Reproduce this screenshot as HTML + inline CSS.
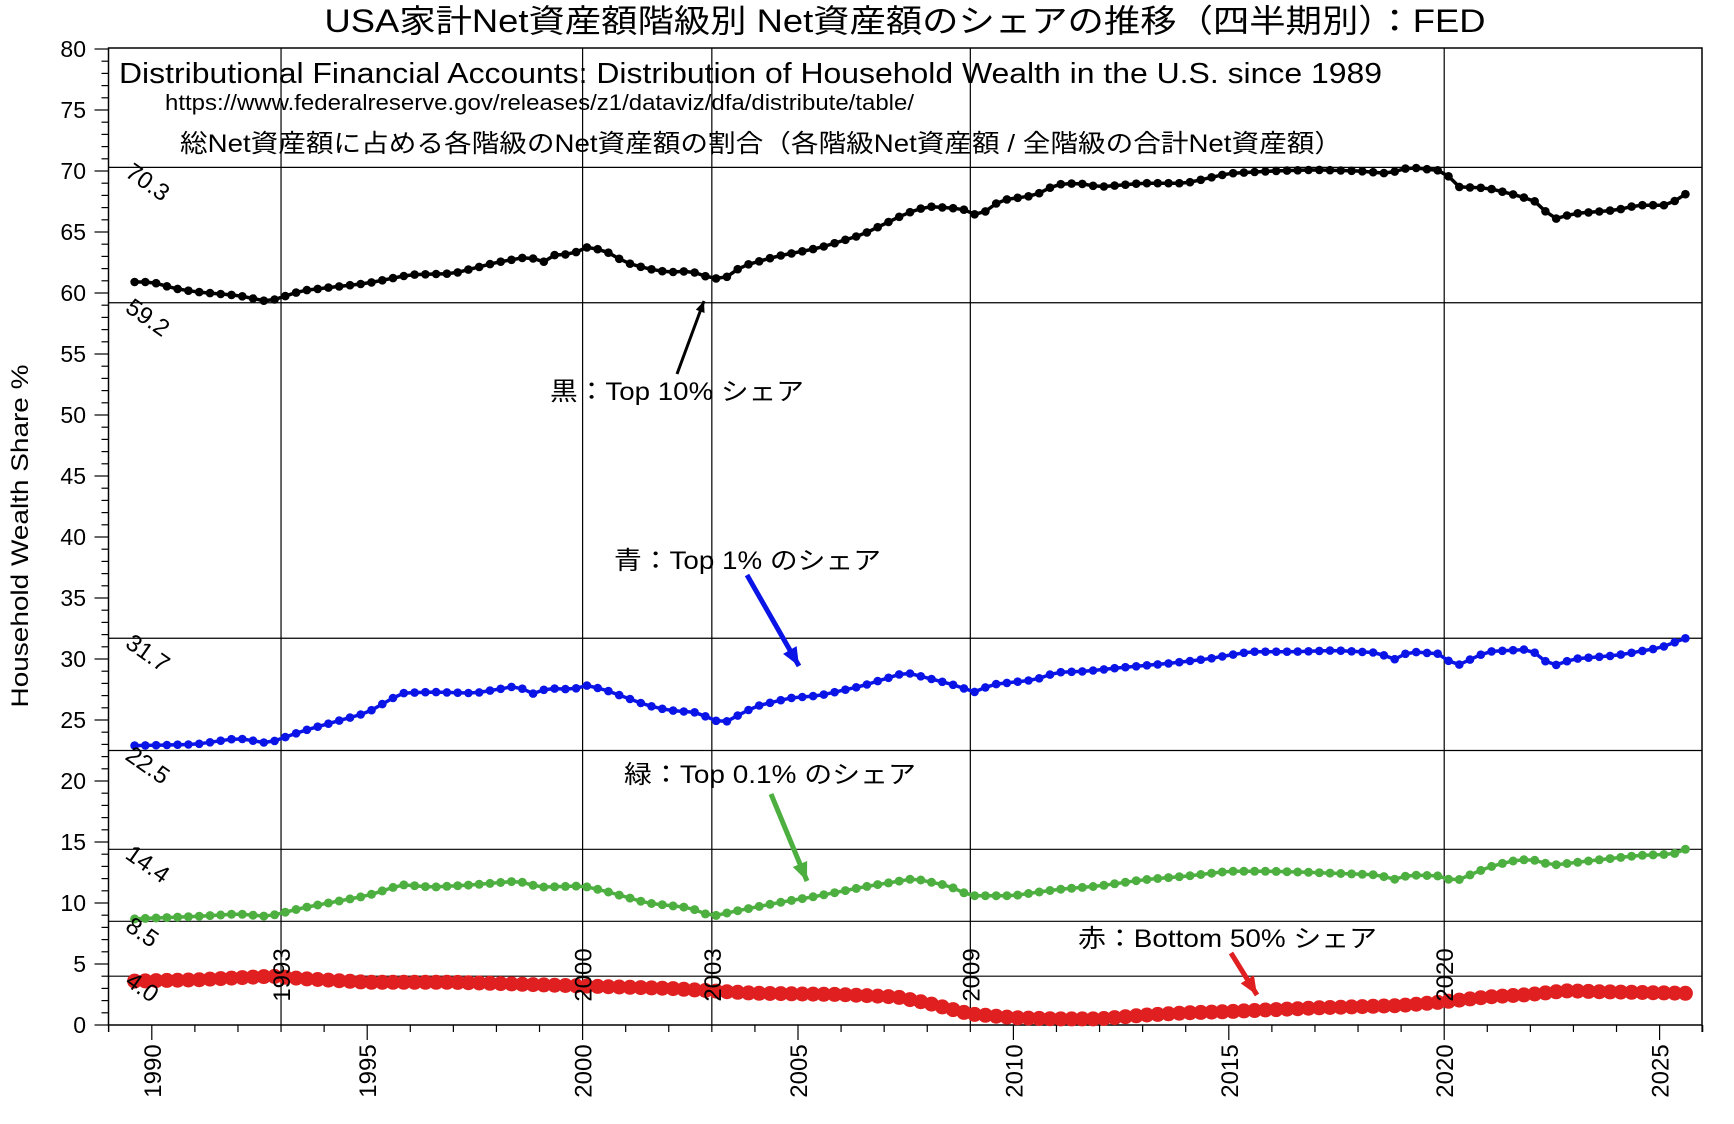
<!DOCTYPE html>
<html><head><meta charset="utf-8">
<style>
html,body{margin:0;padding:0;background:#fff;}
svg{display:block;}
text{font-family:"Liberation Sans","Noto Sans CJK JP",sans-serif;fill:#000;}
</style></head>
<body>
<svg id="s" width="1734" height="1124" viewBox="0 0 1734 1124" xmlns="http://www.w3.org/2000/svg">
<rect width="1734" height="1124" fill="#fff"/>
<text x="905" y="32" font-size="32" text-anchor="middle" textLength="1161" lengthAdjust="spacingAndGlyphs">USA家計Net資産額階級別 Net資産額のシェアの推移（四半期別）：FED</text>
<g id="g"></g>
<text x="119" y="83" font-size="29" textLength="1263" lengthAdjust="spacingAndGlyphs">Distributional Financial Accounts: Distribution of Household Wealth in the U.S. since 1989</text>
<text x="165" y="110" font-size="22" textLength="749" lengthAdjust="spacingAndGlyphs">https://www.federalreserve.gov/releases/z1/dataviz/dfa/distribute/table/</text>
<text x="180" y="152" font-size="25" textLength="1162" lengthAdjust="spacingAndGlyphs">総Net資産額に占める各階級のNet資産額の割合（各階級Net資産額 / 全階級の合計Net資産額）</text>
<text x="550" y="400" font-size="25" textLength="254" lengthAdjust="spacingAndGlyphs">黒：Top 10% シェア</text>
<text x="614" y="569" font-size="25" textLength="267" lengthAdjust="spacingAndGlyphs">青：Top 1% のシェア</text>
<text x="624" y="783" font-size="25" textLength="292" lengthAdjust="spacingAndGlyphs">緑：Top 0.1% のシェア</text>
<text x="1078" y="947" font-size="25" textLength="299" lengthAdjust="spacingAndGlyphs">赤：Bottom 50% シェア</text>
<text transform="translate(28,536) rotate(-90)" font-size="24" text-anchor="middle" textLength="343" lengthAdjust="spacingAndGlyphs">Household Wealth Share %</text>
</svg>
<script>
const g=document.getElementById('g');
const NS='http://www.w3.org/2000/svg';
function el(t,a,txt){const e=document.createElementNS(NS,t);for(const k in a)e.setAttribute(k,a[k]);if(txt!==undefined)e.textContent=txt;g.appendChild(e);return e;}
const L=108.5,R=1702,T=48,B=1025;
const X=y=>151.8+(y-1990)*43.08, Y=v=>1025-v*12.2;
el('rect',{x:L,y:T,width:R-L,height:B-T,fill:'none',stroke:'#000','stroke-width':1.5});
[1993,2000,2003,2009,2020].forEach(yr=>{el('line',{x1:X(yr),y1:T,x2:X(yr),y2:B,stroke:'#000','stroke-width':1.2});});
const HL=[[70.3,'70.3'],[59.2,'59.2'],[31.7,'31.7'],[22.5,'22.5'],[14.4,'14.4'],[8.5,'8.5'],[4.0,'4.0']];
HL.forEach(([v,s])=>{el('line',{x1:L,y1:Y(v),x2:R,y2:Y(v),stroke:'#000','stroke-width':1.2});});
for(let v=0;v<=80;v++){const maj=v%5==0;el('line',{x1:L-(maj?14:7),y1:Y(v),x2:L,y2:Y(v),stroke:'#000','stroke-width':1.2});
 if(maj)el('text',{x:86,y:Y(v)+8,'font-size':23,'text-anchor':'end'},String(v));}
for(let yr=1989;yr<=2026;yr++){const x=X(yr);if(x<L-1||x>R+1)continue;const maj=yr%5==0;el('line',{x1:x,y1:B,x2:x,y2:B+(maj?15:7),stroke:'#000','stroke-width':1.2});
 if(maj)el('text',{transform:`translate(${x+9},${B+46}) rotate(-90)`,'font-size':24,'text-anchor':'middle'},String(yr));}
el('line',{x1:L,y1:B,x2:L,y2:B+7,stroke:'#000','stroke-width':1.2});
el('line',{x1:R,y1:B,x2:R,y2:B+7,stroke:'#000','stroke-width':1.2});
function interp(k,t){if(t<=k[0][0])return k[0][1];for(let i=1;i<k.length;i++){if(t<=k[i][0]){const a=k[i-1],b=k[i];return a[1]+(b[1]-a[1])*(t-a[0])/(b[0]-a[0]);}}return k[k.length-1][1];}
function series(k,col,r,w){const pts=[];for(let t=1989.6;t<=2025.62;t+=0.25){pts.push([X(t),Y(interp(k,t))]);}
 el('polyline',{points:pts.map(p=>p[0].toFixed(1)+','+p[1].toFixed(1)).join(' '),fill:'none',stroke:col,'stroke-width':w,'stroke-linejoin':'round'});
 pts.forEach(p=>el('circle',{cx:p[0].toFixed(1),cy:p[1].toFixed(1),r:r,fill:col}));}
const t10=[[1989.6,60.9],[1990,60.9],[1990.5,60.4],[1991,60.1],[1992,59.8],[1992.7,59.3],[1993.5,60.2],[1995,60.8],[1996,61.5],[1997,61.6],[1998,62.5],[1998.8,63.0],[1999,62.3],[1999.3,63.1],[1999.8,63.2],[2000,63.8],[2000.5,63.5],[2001,62.5],[2001.5,62.0],[2002,61.7],[2002.5,61.8],[2003,61.2],[2003.3,61.2],[2003.7,62.2],[2004.5,63.0],[2005.5,63.7],[2006.5,64.8],[2007.5,66.5],[2008,67.1],[2008.8,66.9],[2009.2,66.3],[2009.7,67.6],[2010.5,68.0],[2011,68.9],[2011.5,69.0],[2012,68.7],[2013,69.0],[2014,69.0],[2015,69.8],[2016,70.0],[2017,70.1],[2018,70.0],[2018.7,69.8],[2019.2,70.3],[2020,70.0],[2020.3,68.7],[2021,68.6],[2021.7,68.0],[2022.2,67.4],[2022.5,66.0],[2023,66.5],[2024,66.8],[2024.5,67.2],[2025.2,67.2],[2025.6,68.1]];
const t1=[[1989.6,22.9],[1991,23.0],[1992,23.5],[1992.7,23.1],[1993.5,24.1],[1995,25.6],[1995.8,27.2],[1996.5,27.3],[1997.5,27.2],[1998.5,27.8],[1998.8,27.1],[1999.2,27.6],[1999.8,27.5],[2000,27.9],[2000.5,27.5],[2001.5,26.2],[2002,25.8],[2002.7,25.6],[2003,25.0],[2003.3,24.8],[2004,26.1],[2004.8,26.8],[2005.5,27.0],[2006.5,27.8],[2007.5,28.9],[2008.5,28.0],[2009.1,27.3],[2009.5,27.9],[2010.5,28.3],[2011,28.9],[2011.7,29.0],[2012.5,29.3],[2013.5,29.6],[2014.5,30.0],[2015.5,30.6],[2016.5,30.6],[2017.5,30.7],[2018.5,30.5],[2018.8,29.9],[2019.2,30.6],[2020,30.4],[2020.2,29.3],[2021,30.6],[2022,30.8],[2022.5,29.4],[2023,30.0],[2024,30.3],[2025,30.9],[2025.6,31.7]];
const t01=[[1989.6,8.7],[1991,8.9],[1992,9.1],[1992.7,8.9],[1993.5,9.6],[1995,10.6],[1995.8,11.5],[1996.5,11.3],[1997.5,11.5],[1998.5,11.8],[1999,11.3],[2000,11.4],[2000.5,11.0],[2001.5,10.0],[2002.5,9.6],[2003,8.9],[2003.5,9.3],[2004.5,10.0],[2005.5,10.6],[2006.5,11.3],[2007.7,12.0],[2008.5,11.4],[2009,10.6],[2010,10.6],[2011,11.1],[2012,11.4],[2013,11.9],[2014,12.2],[2015,12.6],[2016,12.6],[2017,12.5],[2018.5,12.3],[2018.8,11.9],[2019.2,12.3],[2020,12.2],[2020.2,11.7],[2021,12.9],[2021.5,13.4],[2022,13.6],[2022.5,13.1],[2023.5,13.5],[2024.5,13.9],[2025.3,14.0],[2025.6,14.4]];
const b50=[[1989.6,3.6],[1991,3.7],[1992.8,4.0],[1993.5,3.8],[1995,3.5],[1997,3.5],[2000,3.2],[2002,3.0],[2004,2.6],[2006,2.5],[2007.3,2.3],[2008,1.8],[2009,0.9],[2010,0.6],[2011,0.5],[2012,0.5],[2013,0.8],[2014,1.0],[2015,1.1],[2017,1.4],[2018,1.5],[2019,1.6],[2020,1.9],[2021,2.3],[2022,2.5],[2022.8,2.8],[2024,2.7],[2025.6,2.6]];
series(b50,'#e02020',7.5,8);
series(t01,'#4caf40',4.5,3.5);
series(t1,'#0a14e6',4.3,3.5);
series(t10,'#000',4.3,3.5);
HL.forEach(([v,s])=>{el('text',{transform:`translate(124,${Y(v)+8}) rotate(35)`,'font-size':24},s);});
[1993,2000,2003,2009,2020].forEach(yr=>{el('text',{transform:`translate(${X(yr)+9},${Y(4.1)}) rotate(-90)`,'font-size':24,'text-anchor':'middle'},String(yr));});
function arrow(x1,y1,x2,y2,col){el('line',{x1,y1,x2,y2,stroke:col,'stroke-width':col=='#000'?3:5});
 const a=Math.atan2(y2-y1,x2-x1),l=col=='#000'?12:20,s=0.4;
 el('polygon',{points:`${x2},${y2} ${x2-l*Math.cos(a-s)},${y2-l*Math.sin(a-s)} ${x2-l*Math.cos(a+s)},${y2-l*Math.sin(a+s)}`,fill:col});}
arrow(677,374,704,301,'#000');
arrow(747,575,799,666,'#0a14e6');
arrow(771,794,807,881,'#4caf40');
arrow(1231,953,1257,995,'#e02020');
</script>
</body></html>
